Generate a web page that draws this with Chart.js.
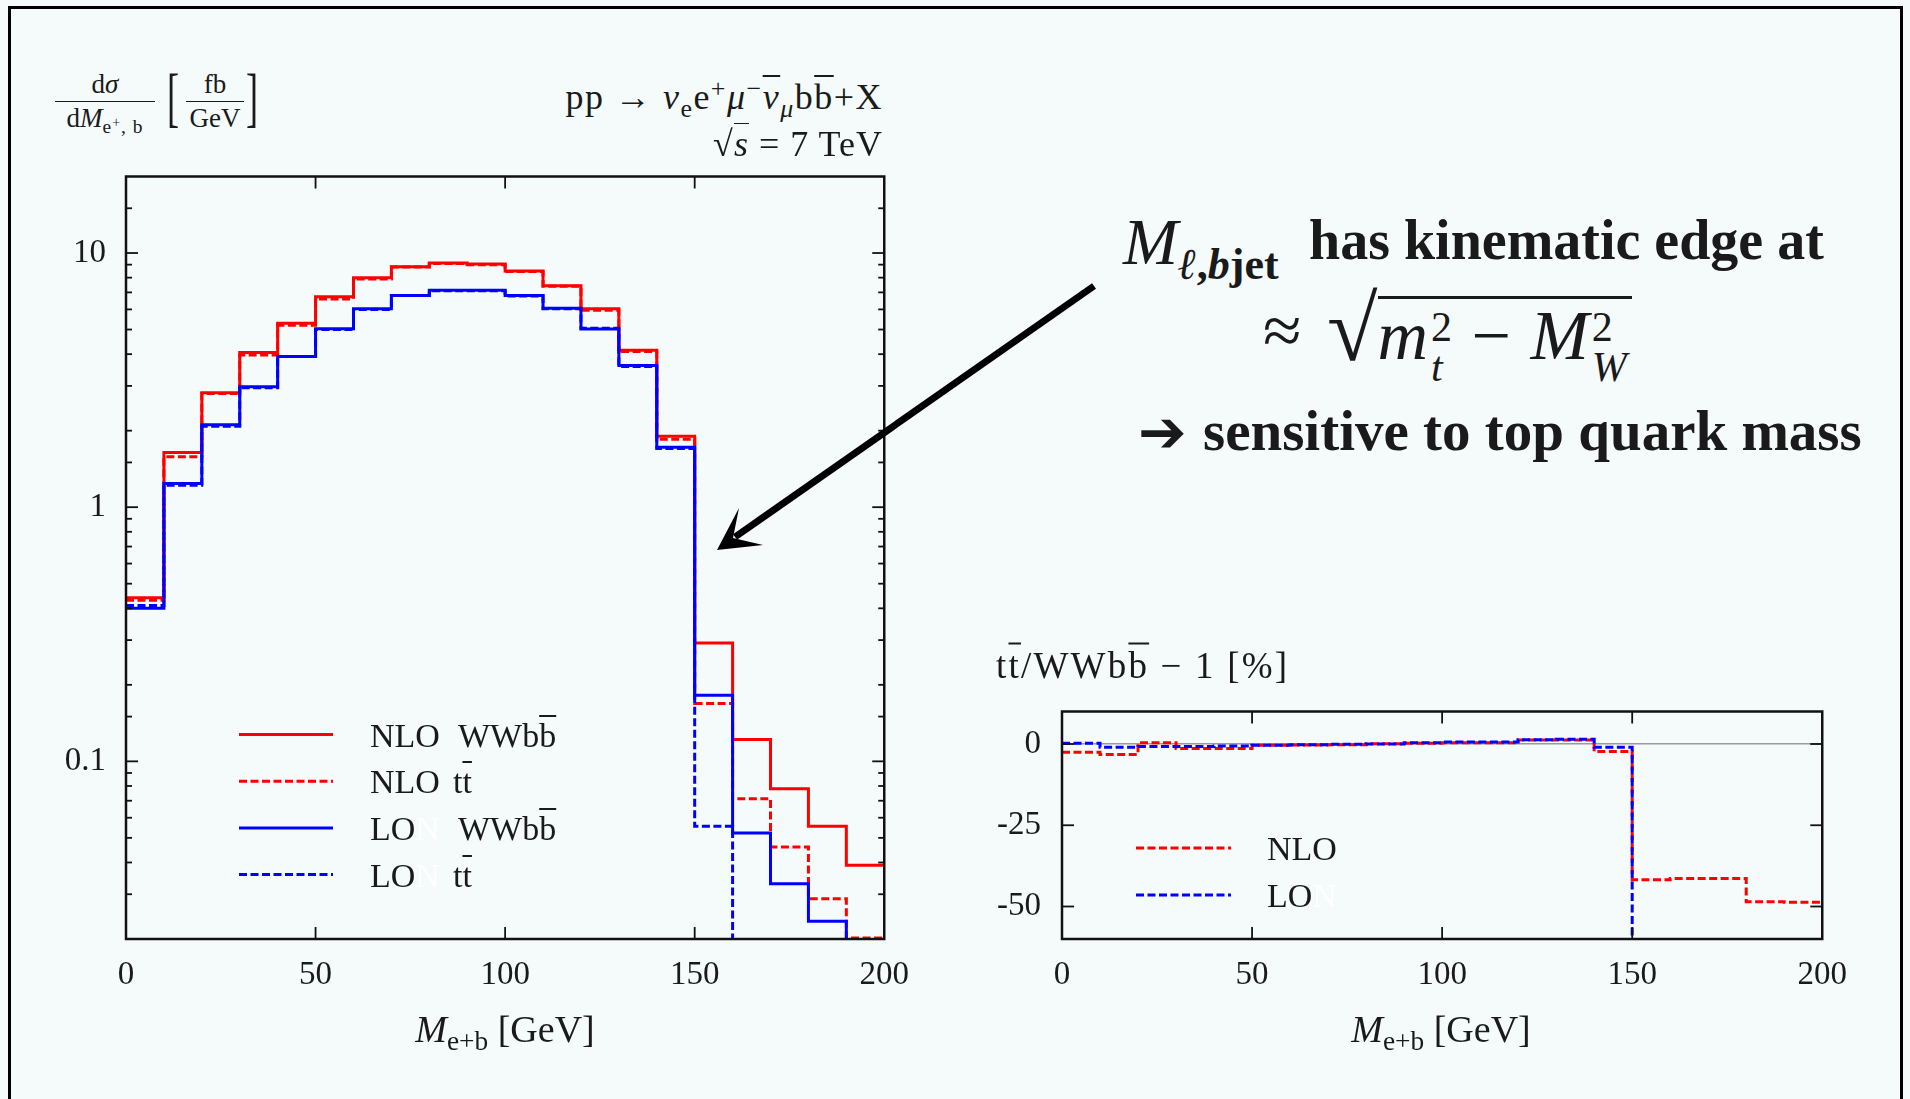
<!DOCTYPE html>
<html>
<head>
<meta charset="utf-8">
<script src="https://cdn.jsdelivr.net/npm/chart.js@4.4.1/dist/chart.umd.min.js"></script>
<style>
html,body{margin:0;padding:0;width:1910px;height:1099px;overflow:hidden;background:#f5fafa;}
#frame{position:absolute;left:8px;top:6px;width:1895px;height:1200px;border:3px solid #000;box-sizing:border-box;}
.box{position:absolute;}
.t{position:absolute;white-space:nowrap;font-family:'Liberation Serif',serif;color:#1a1a1a;line-height:1;}
.b{font-weight:bold;}
.ob{text-decoration:overline;text-decoration-thickness:1.5px;}
sub{font-size:0.72em;vertical-align:-0.3em;line-height:0;}
sup{font-size:0.72em;vertical-align:0.45em;line-height:0;}
.ss{display:inline-flex;flex-direction:column;font-size:0.6em;line-height:0.95;vertical-align:0.42em;margin-left:2px;}
.c1{display:inline-block;}
.wn{color:#fff;}
.cy{transform:translateY(-50%);}
.cc{transform:translate(-50%,-50%);}
.fr{position:absolute;display:flex;flex-direction:column;align-items:center;font-family:'Liberation Serif',serif;color:#1a1a1a;font-size:27px;line-height:1;}
.fr .den{border-top:1.5px solid #1a1a1a;align-self:stretch;text-align:center;padding-top:3px;}
.fr .num{padding-bottom:3px;}
.brk{position:absolute;font-family:'Liberation Serif',serif;color:#1a1a1a;font-size:66px;line-height:1;transform:scaleX(0.55);transform-origin:left top;}
</style>
</head>
<body>
<div id="frame"></div>

<div class="box" style="left:20px;top:140px;width:909px;height:920px;"><canvas id="dist"></canvas></div>
<div class="box" style="left:960px;top:674px;width:907px;height:386px;"><canvas id="ratio"></canvas></div>

<!-- left plot texts -->
<div class="fr" style="left:55px;top:71px;width:100px;"><span class="num">d<i>σ</i></span><span class="den">d<i>M</i><sub style="letter-spacing:1px">e<sup>+</sup>, b</sub></span></div>
<div class="brk" style="left:167px;top:64px;">[</div>
<div class="fr" style="left:186px;top:71px;width:58px;"><span class="num">fb</span><span class="den">GeV</span></div>
<div class="brk" style="left:246px;top:64px;">]</div>

<div class="t cy" style="right:1027px;top:97px;font-size:36px;letter-spacing:1.5px;">pp → <i>ν</i><sub>e</sub>e<sup>+</sup><i>μ</i><sup>−</sup><i class="ob">ν</i><sub><i>μ</i></sub>b<span class="ob">b</span>+X</div>
<div class="t cy" style="right:1027px;top:144px;font-size:36px;letter-spacing:1px;">√<span style="border-top:1.5px solid #1a1a1a"><i>s</i></span> = 7 TeV</div>

<div class="t cy" style="left:370px;top:736px;font-size:34px;"><span class="c1" style="width:88px">NLO</span>WWb<span class="ob">b</span></div>
<div class="t cy" style="left:370px;top:782px;font-size:34px;"><span class="c1" style="width:83px">NLO</span>t<span class="ob">t</span></div>
<div class="t cy" style="left:370px;top:829px;font-size:34px;"><span class="c1" style="width:88px">LO<span class="wn">N</span></span>WWb<span class="ob">b</span></div>
<div class="t cy" style="left:370px;top:876px;font-size:34px;"><span class="c1" style="width:83px">LO<span class="wn">N</span></span>t<span class="ob">t</span></div>
<div class="t cc" style="left:505px;top:1029px;font-size:38px;"><i>M</i><sub>e+b</sub> [GeV]</div>

<!-- ratio plot texts -->
<div class="t cy" style="left:996px;top:665px;font-size:37px;letter-spacing:2.2px;">t<span class="ob">t</span>/WWb<span class="ob">b</span> − 1 [%]</div>
<div class="t cy" style="left:1267px;top:849px;font-size:34px;">NLO</div>
<div class="t cy" style="left:1267px;top:896px;font-size:34px;">LO<span class="wn">N</span></div>
<div class="t cc" style="left:1441px;top:1029px;font-size:38px;"><i>M</i><sub>e+b</sub> [GeV]</div>

<!-- annotation -->
<div class="t cy" style="left:1123px;top:242px;font-size:66px;"><i>M</i><sub class="b" style="font-size:44px;vertical-align:-0.35em;"><i>ℓ</i>,<i>b</i>jet</sub></div>
<div class="t b cy" style="left:1309px;top:240px;font-size:56px;">has kinematic edge at</div>
<div class="t cy" style="left:1263px;top:331px;font-size:70px;">≈</div>
<div class="t" style="left:1327px;top:288px;display:flex;align-items:flex-start;">
  <span style="font-size:92px;line-height:0.9;">√</span><span style="font-size:70px;border-top:3px solid #1a1a1a;margin-top:8px;padding:2px 4px 0 0;letter-spacing:1px;"><i>m</i><span class="ss"><span>2</span><i>t</i></span> − <i>M</i><span class="ss"><span>2</span><i>W</i></span></span>
</div>
<div class="t cy" style="left:1138px;top:432px;font-family:'DejaVu Sans';font-size:58px;">➔</div>
<div class="t b cy" style="left:1203px;top:430px;font-size:57px;">sensitive to top quark mass</div>

<svg style="position:absolute;left:0;top:0;" width="1910" height="1099">
  <line x1="1094" y1="286" x2="735" y2="537" stroke="#000" stroke-width="7"/>
  <polygon points="717,550 739,508 733,538 763,545" fill="#000"/>
</svg>

<script>
// bin edges in GeV
const binEdges = [0,10,20,30,40,50,60,70,80,90,100,110,120,130,140,150,160,170,180,190,200];

// dsigma/dM [fb/GeV]; values under 0.02 lie below the plotted range
const nloWWbb = [0.44,1.64,2.82,4.06,5.29,6.73,8.0,8.83,9.14,9.05,8.49,7.44,6.03,4.14,1.90,0.292,0.122,0.078,0.0556,0.039];
const nloTT   = [0.43,1.58,2.80,3.97,5.20,6.60,7.90,8.80,9.10,9.00,8.45,7.40,5.95,4.10,1.85,0.169,0.0713,0.046,0.0288,0.0202];
const loWWbb  = [0.40,1.24,2.11,2.98,3.92,5.03,6.03,6.81,7.13,7.13,6.81,6.06,5.02,3.61,1.72,0.182,0.0523,0.033,0.0235,0.015];
const loTT    = [0.41,1.22,2.08,2.95,3.92,5.00,6.00,6.80,7.10,7.10,6.78,6.03,5.06,3.58,1.70,0.0556,0.005,0.005,0.005,0.005];

// ttbar/WWbb - 1 [%]
const ratioNLO = [-2.5,-3.2,0.4,-1.4,-1.4,-0.4,-0.3,-0.2,0.1,0.2,0.4,0.4,1.2,1.2,-2.3,-41.8,-41.4,-41.4,-48.5,-48.7];
const ratioLO  = [0.2,-1.0,-0.8,-0.8,-0.6,-0.4,-0.2,-0.1,0.0,0.4,0.6,0.6,1.3,1.5,-1.0,-69,-100,-100,-100,-100];

const xTicks = [0,50,100,150,200];
const logTicks = [0.1,1,10];
const logTickText = ['0.1','1','10'];
const ratioTicks = [-50,-25,0];

const RED = '#ff0000', BLUE = '#0000ff';
const DASH = [8,3.5];
const tickFont = {family:'Liberation Serif', size:33, lineHeight:1};

function steps(vals){
  const pts = vals.map((v,i) => ({x:binEdges[i], y:v}));
  pts.push({x:binEdges[vals.length], y:vals[vals.length-1]});
  return pts;
}

function isDecade(v){
  const l = Math.log10(v);
  return Math.abs(l - Math.round(l)) < 1e-6;
}

// gnuplot style frame: box, inward ticks on all four sides, legend samples
const gnuFrame = {
  id:'gnuFrame',
  afterDatasetsDraw(chart, args, o){
    const {ctx, chartArea:a} = chart;
    const xs = chart.scales.x, ys = chart.scales.y;
    const seg = (x1,y1,x2,y2) => {ctx.beginPath();ctx.moveTo(x1,y1);ctx.lineTo(x2,y2);ctx.stroke();};
    ctx.save();
    ctx.strokeStyle = '#111';
    ctx.lineWidth = 1.8;
    xs.ticks.forEach(t => {
      if (t.value <= xs.min || t.value >= xs.max) return;
      const p = xs.getPixelForValue(t.value);
      seg(p,a.bottom,p,a.bottom-12);
      seg(p,a.top,p,a.top+12);
    });
    ys.ticks.forEach(t => {
      if (t.value <= ys.min || t.value >= ys.max) return;
      const p = ys.getPixelForValue(t.value);
      const L = (ys.type === 'logarithmic' && !isDecade(t.value)) ? 6 : 12;
      seg(a.left,p,a.left+L,p);
      seg(a.right,p,a.right-L,p);
    });
    ctx.lineWidth = 2.5;
    ctx.strokeRect(a.left,a.top,a.right-a.left,a.bottom-a.top);
    (o.rows || []).forEach((r,i) => {
      const ds = chart.data.datasets[r];
      ctx.strokeStyle = ds.borderColor;
      ctx.lineWidth = ds.borderWidth;
      ctx.setLineDash(ds.borderDash || []);
      const y = a.top + o.y0 + i*o.dy;
      seg(a.left+o.x0, y, a.left+o.x1, y);
    });
    ctx.restore();
  }
};

function xScale(){
  return {
    type:'linear', min:0, max:200,
    afterBuildTicks: s => { s.ticks = xTicks.map(v => ({value:v})); },
    afterFit: s => { s.height = 121; },
    grid:{display:false, drawTicks:false},
    border:{display:false},
    ticks:{font:tickFont, color:'#1a1a1a', padding:20, maxRotation:0, autoSkip:false, callback: v => String(v)}
  };
}

function line(label, vals, color, dashed, order){
  return {
    label, data: steps(vals), borderColor: color, borderWidth: 3,
    borderDash: dashed ? DASH : [], stepped: true, pointRadius: 0, fill: false, order
  };
}

const common = {
  animation:false, responsive:true, maintainAspectRatio:false, events:[]
};

new Chart(document.getElementById('dist'), {
  type:'line',
  data:{datasets:[
    line('NLO WWbb', nloWWbb, RED, false, 4),
    line('NLO tt', nloTT, RED, true, 3),
    line('LO WWbb', loWWbb, BLUE, false, 2),
    line('LO tt', loTT, BLUE, true, 1)
  ]},
  options:Object.assign({}, common, {
    layout:{padding:{top:18, right:30, left:0, bottom:0}},
    plugins:{legend:{display:false}, tooltip:{enabled:false},
      gnuFrame:{rows:[0,1,2,3], x0:113, x1:207, y0:558, dy:46.7}},
    scales:{
      x:xScale(),
      y:{
        type:'logarithmic', min:0.02, max:20,
        afterFit: s => { s.width = 106; },
        grid:{display:false, drawTicks:false},
        border:{display:false},
        ticks:{font:tickFont, color:'#1a1a1a', padding:20, autoSkip:false,
          callback: v => { const i = logTicks.findIndex(t => Math.abs(t - v) < 1e-9); return i >= 0 ? logTickText[i] : ''; }}
      }
    }
  }),
  plugins:[gnuFrame]
});

new Chart(document.getElementById('ratio'), {
  type:'line',
  data:{datasets:[
    line('NLO', ratioNLO, RED, true, 2),
    line('LO', ratioLO, BLUE, true, 1)
  ]},
  options:Object.assign({}, common, {
    layout:{padding:{top:22, right:30, left:0, bottom:0}},
    plugins:{legend:{display:false}, tooltip:{enabled:false},
      gnuFrame:{rows:[0,1], x0:74, x1:169, y0:136.5, dy:47}},
    scales:{
      x:xScale(),
      y:{
        type:'linear', min:-60, max:10,
        afterBuildTicks: s => { s.ticks = ratioTicks.map(v => ({value:v})); },
        afterFit: s => { s.width = 102; },
        grid:{display:true, drawTicks:false, lineWidth:1.5,
          color: c => (c.tick && c.tick.value === 0) ? '#9a9a9a' : 'rgba(0,0,0,0)'},
        border:{display:false},
        ticks:{font:tickFont, color:'#1a1a1a', padding:21, autoSkip:false, callback: v => String(v)}
      }
    }
  }),
  plugins:[gnuFrame]
});
</script>
</body>
</html>
